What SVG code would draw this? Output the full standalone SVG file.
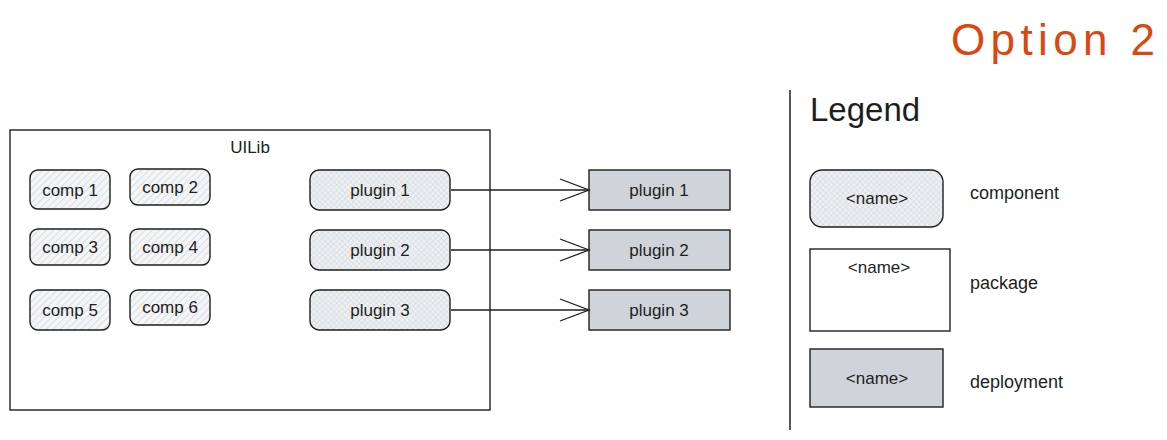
<svg xmlns="http://www.w3.org/2000/svg" width="1167" height="440" viewBox="0 0 1167 440">
<defs>
<pattern id="hach" width="5" height="5" patternUnits="userSpaceOnUse" patternTransform="rotate(45)">
<rect width="5" height="5" fill="#f4f5f6"/>
<line x1="0" y1="0" x2="0" y2="5" stroke="#ced4da" stroke-width="1.4"/>
</pattern>
<pattern id="cross" width="4" height="4" patternUnits="userSpaceOnUse" patternTransform="rotate(45)">
<rect width="4" height="4" fill="#eef0f2"/>
<line x1="0" y1="0" x2="0" y2="4" stroke="#ced4da" stroke-width="1"/>
<line x1="0" y1="0" x2="4" y2="0" stroke="#ced4da" stroke-width="1"/>
</pattern>
<marker id="arr" markerWidth="32" markerHeight="26" refX="30" refY="13" orient="auto" markerUnits="userSpaceOnUse">
<path d="M1,2 L30,13 L1,24" fill="none" stroke="#1e1e1e" stroke-width="1.3"/>
</marker>
</defs>
<style>
text{font-family:"Liberation Sans","DejaVu Sans",sans-serif;fill:#1e1e1e}
.lbl{font-size:17px;text-anchor:middle;dominant-baseline:central}
.comp{fill:url(#hach);stroke:#1e1e1e;stroke-width:1.4}
.plug{fill:url(#cross);stroke:#1e1e1e;stroke-width:1.4}
.dep{fill:#ced4da;stroke:#1e1e1e;stroke-width:1.4}
.pkg{fill:#fff;stroke:#1e1e1e;stroke-width:1.4}
.conn{stroke:#1e1e1e;stroke-width:1.3;fill:none}
</style>
<rect width="1167" height="440" fill="#fff"/>
<text x="951" y="55" font-size="44" textLength="204" lengthAdjust="spacing" style="fill:#d9480f">Option 2</text>
<g id="uilib">
<rect class="pkg" x="10" y="130" width="480" height="280"/>
<text class="lbl" x="250" y="147">UILib</text>
</g>
<g id="comp1"><rect class="comp" x="30" y="170" width="80" height="39" rx="8"/><text class="lbl" x="70" y="190">comp 1</text></g>
<g id="comp2"><rect class="comp" x="130" y="169" width="80" height="36" rx="8"/><text class="lbl" x="170" y="187">comp 2</text></g>
<g id="comp3"><rect class="comp" x="30" y="229" width="80" height="36" rx="8"/><text class="lbl" x="70" y="247">comp 3</text></g>
<g id="comp4"><rect class="comp" x="130" y="229" width="80" height="36" rx="8"/><text class="lbl" x="170" y="247">comp 4</text></g>
<g id="comp5"><rect class="comp" x="30" y="290" width="80" height="40" rx="8"/><text class="lbl" x="70" y="310">comp 5</text></g>
<g id="comp6"><rect class="comp" x="130" y="290" width="80" height="35" rx="8"/><text class="lbl" x="170" y="307">comp 6</text></g>
<g id="plugin1"><rect class="plug" x="310" y="170" width="140" height="40" rx="9"/><text class="lbl" x="380" y="190">plugin 1</text></g>
<g id="plugin2"><rect class="plug" x="310" y="230" width="140" height="40" rx="9"/><text class="lbl" x="380" y="250">plugin 2</text></g>
<g id="plugin3"><rect class="plug" x="310" y="290" width="140" height="40" rx="9"/><text class="lbl" x="380" y="310">plugin 3</text></g>
<g id="dep1"><rect class="dep" x="589" y="170" width="141" height="40"/><text class="lbl" x="659" y="190">plugin 1</text></g>
<g id="dep2"><rect class="dep" x="589" y="230" width="141" height="40"/><text class="lbl" x="659" y="250">plugin 2</text></g>
<g id="dep3"><rect class="dep" x="589" y="290" width="141" height="40"/><text class="lbl" x="659" y="310">plugin 3</text></g>
<g id="connectors">
<line class="conn" x1="451" y1="190" x2="589" y2="190" marker-end="url(#arr)"/>
<line class="conn" x1="451" y1="250" x2="589" y2="250" marker-end="url(#arr)"/>
<line class="conn" x1="451" y1="310" x2="589" y2="310" marker-end="url(#arr)"/>
</g>
<g id="legend">
<line x1="790" y1="90" x2="790" y2="430" stroke="#1e1e1e" stroke-width="1.5"/>
<text x="810" y="121" font-size="33">Legend</text>
<g id="legend-component"><rect class="plug" x="810" y="170" width="133" height="57" rx="12"/><text class="lbl" x="877" y="198">&lt;name&gt;</text></g>
<text x="970" y="199" font-size="18">component</text>
<g id="legend-package"><rect class="pkg" x="810" y="249" width="140" height="82"/><text class="lbl" x="879" y="267">&lt;name&gt;</text></g>
<text x="970" y="289" font-size="18">package</text>
<g id="legend-deployment"><rect class="dep" x="810" y="349" width="133" height="58"/><text class="lbl" x="877" y="378">&lt;name&gt;</text></g>
<text x="970" y="388" font-size="18">deployment</text>
</g>
</svg>
